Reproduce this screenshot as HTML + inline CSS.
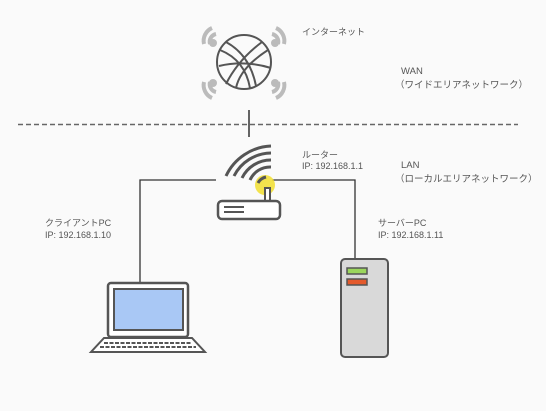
<!DOCTYPE html>
<html><head><meta charset="utf-8"><style>
body{margin:0;width:546px;height:411px;background:#fafafa;overflow:hidden;font-family:"Liberation Sans","Noto Sans CJK JP",sans-serif;}
svg{position:absolute;left:0;top:0}
svg text{font-family:"Liberation Sans","Noto Sans CJK JP",sans-serif;fill:#555}
</style></head><body>
<svg width="546" height="411" viewBox="0 0 546 411">
<line x1="18" y1="124.5" x2="518" y2="124.5" stroke="#666" stroke-width="1.5" stroke-dasharray="5,3"/>
<g fill="none" stroke="#555" stroke-width="2">
<circle cx="244" cy="62" r="27"/>
<path d="M226 42 Q250 55 256 86"/>
<path d="M220 50 Q245 60 250 88"/>
<path d="M262 42 Q238 60 226 84"/>
<path d="M268 50 Q240 68 236 88"/>
<path d="M219 66 Q245 60 271 68"/>
</g>
<g fill="none" stroke="#bbb" stroke-width="4">
<path d="M212 28 A14 14 0 0 0 204 44"/><path d="M216 34 A8 8 0 0 0 210 44"/>
<path d="M276 28 A14 14 0 0 1 284 44"/><path d="M272 34 A8 8 0 0 1 278 44"/>
<path d="M204 82 A14 14 0 0 0 212 98"/><path d="M210 82 A8 8 0 0 0 216 92"/>
<path d="M284 82 A14 14 0 0 1 276 98"/><path d="M278 82 A8 8 0 0 1 272 92"/>
</g>
<g fill="#bbb"><circle cx="213" cy="43" r="4"/><circle cx="275" cy="43" r="4"/><circle cx="213" cy="83" r="4"/><circle cx="275" cy="83" r="4"/></g>
<line x1="249" y1="110" x2="249" y2="137" stroke="#333" stroke-width="1.5"/>
<polyline points="140,283 140,180 216,180" fill="none" stroke="#333" stroke-width="1.3"/>
<polyline points="272,180 355,180 355,259" fill="none" stroke="#333" stroke-width="1.3"/>
<circle cx="265" cy="185" r="10" fill="#f2e03a" opacity="0.9"/>
<g fill="none" stroke="#555" stroke-width="3">
<path d="M226 176 A52 52 0 0 1 271 146"/>
<path d="M234 176 A42 42 0 0 1 271 153"/>
<path d="M242 178 A32 32 0 0 1 271 160"/>
<path d="M250 180 A22 22 0 0 1 271 167"/>
<path d="M258 183 A12 12 0 0 1 266 177"/>
</g>
<rect x="265" y="188" width="5" height="14" fill="#fff" stroke="#555" stroke-width="2"/>
<rect x="218" y="201" width="62" height="18" rx="4" fill="#fff" stroke="#555" stroke-width="2.5"/>
<line x1="224" y1="207" x2="244" y2="207" stroke="#555" stroke-width="2"/>
<line x1="224" y1="212" x2="244" y2="212" stroke="#555" stroke-width="2"/>
<rect x="108" y="283" width="80" height="54" rx="3" fill="#fff" stroke="#555" stroke-width="2.5"/>
<rect x="114" y="289" width="69" height="41" fill="#a9c8f5" stroke="#555" stroke-width="2"/>
<path d="M104 338 L192 338 L205 352 L91 352 Z" fill="#fff" stroke="#555" stroke-width="2"/>
<line x1="104" y1="343" x2="192" y2="343" stroke="#555" stroke-width="2" stroke-dasharray="4,1.5"/>
<line x1="100" y1="347" x2="196" y2="347" stroke="#555" stroke-width="2" stroke-dasharray="4,1.5"/>
<rect x="341" y="259" width="47" height="98" rx="4" fill="#d9d9d9" stroke="#555" stroke-width="2"/>
<rect x="347" y="268" width="20" height="6" fill="#9bd65c" stroke="#555" stroke-width="1.5"/>
<rect x="347" y="279" width="20" height="6" fill="#e45a2c" stroke="#555" stroke-width="1.5"/>
<g font-size="9">
<text x="302" y="35">インターネット</text>
<text x="302" y="158">ルーター</text>
<text x="302" y="169">IP: 192.168.1.1</text>
<text x="45" y="226">クライアントPC</text>
<text x="45" y="238">IP: 192.168.1.10</text>
<text x="378" y="226">サーバーPC</text>
<text x="378" y="238">IP: 192.168.1.11</text>
</g>
<g font-size="9.5">
<text x="401" y="74">WAN</text>
<text x="395" y="88">（ワイドエリアネットワーク）</text>
<text x="401" y="168">LAN</text>
<text x="395" y="182">（ローカルエリアネットワーク）</text>
</g>
</svg>
</body></html>
